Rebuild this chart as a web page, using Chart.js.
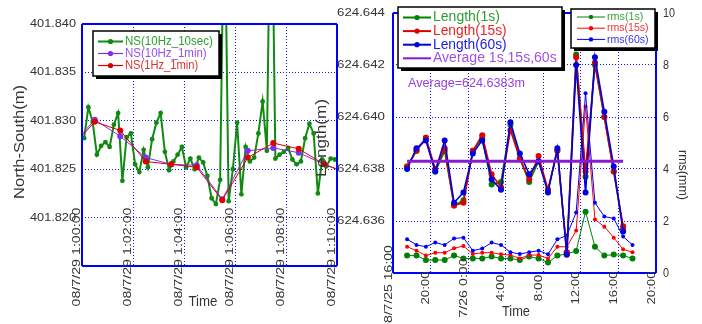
<!DOCTYPE html>
<html>
<head>
<meta charset="utf-8">
<script src="https://cdn.jsdelivr.net/npm/chart.js@4.4.1/dist/chart.umd.min.js"></script>
<style>
  html, body { margin: 0; padding: 0; background: #fff; width: 702px; height: 324px; overflow: hidden; }
  .layer { position: absolute; left: 0; top: 0; width: 702px; height: 324px; }
</style>
</head>
<body>
<div class="layer"><canvas id="nsChart" width="702" height="324"></canvas></div>
<div class="layer"><canvas id="lenChart" width="702" height="324"></canvas></div>
<script>
// ---------- North-South position, 08/7/29 1:00 - 1:10 (seconds after 1:00:00) ----------
const nsTickLabels = ['08/7/29 1:00:00', '08/7/29 1:02:00', '08/7/29 1:04:00',
                      '08/7/29 1:06:00', '08/7/29 1:08:00', '08/7/29 1:10:00'];

// 10 Hz data averaged over 10 s, stamped at 1:00:05, 1:00:15, ...
const ns10Hz10sec = [
  401.8282, 401.8314, 401.8299, 401.8265, 401.8274, 401.8278, 401.8273, 401.8296, 401.8308, 401.8238,
  401.8283, 401.8287, 401.8255, 401.8247, 401.8270, 401.8252, 401.8281, 401.8298, 401.8308, 401.8268,
  401.8249, 401.8258, 401.8265, 401.8273, 401.8252, 401.8261, 401.8250, 401.8262, 401.8257, 401.8243,
  401.8220, 401.8214, 401.8239, 401.8550, 401.8217, 401.8250, 401.8298, 401.8224, 401.8273, 401.8258,
  401.8262, 401.8287, 401.8320, 401.8269, 401.8600, 401.8261, 401.8265, 401.8268, 401.8272, 401.8260,
  401.8255, 401.8258, 401.8282, 401.8297, 401.8287, 401.8225, 401.8260, 401.8253, 401.8261, 401.8260
];
const ns10secTimes = ns10Hz10sec.map((_, i) => 5 + 10 * i);

// one-minute means, stamped at half past each minute
const ns1minTimes = [-30, 30, 90, 150, 210, 270, 330, 390, 450, 510, 570, 630];
const ns10Hz1min  = [401.8272, 401.8301, 401.8284, 401.8262, 401.8255, 401.8254,
                     401.8219, 401.8269, 401.8272, 401.8267, 401.8255, 401.8245];
const ns1Hz1min   = [401.8270, 401.8299, 401.8290, 401.8258, 401.8255, 401.8252,
                     401.8218, 401.8262, 401.8277, 401.8271, 401.8255, 401.8245];

// ---------- Baseline length and rms, 08/7/25 16:00 - 7/26 20:00 (hours after start) ----------
const lenTickLabels = ['08/7/25 16:00', '20:00', '7/26 0:00', '4:00', '8:00', '12:00', '16:00', '20:00'];

const lengthHours = Array.from({ length: 24 }, (_, i) => 1.5 + i);
const length1s  = [624.6381, 624.6387, 624.6392, 624.6379, 624.6387, 624.6366, 624.6368, 624.6387,
                   624.6392, 624.6374, 624.6375, 624.6397, 624.6384, 624.6375, 624.6383, 624.6372,
                   624.6387, 624.6348, 624.6424, 624.6377, 624.6420, 624.6400, 624.6379, 624.6357];
const length15s = [624.6381, 624.6387, 624.6392, 624.6380, 624.6388, 624.6366, 624.6367, 624.6387,
                   624.6393, 624.6378, 624.6373, 624.6395, 624.6384, 624.6376, 624.6385, 624.6372,
                   624.6387, 624.6348, 624.6423, 624.6379, 624.6421, 624.6400, 624.6379, 624.6358];
const length60s = [624.6380, 624.6388, 624.6391, 624.6379, 624.6391, 624.6367, 624.6371, 624.6386,
                   624.6391, 624.6376, 624.6372, 624.6398, 624.6386, 624.6378, 624.6383, 624.6371,
                   624.6388, 624.6347, 624.6420, 624.6371, 624.6423, 624.6402, 624.6381, 624.6356];
const lengthAverage = 624.6383;

const rmsHours = Array.from({ length: 25 }, (_, i) => 1.5 + i);
const rms1s  = [0.67, 0.67, 0.50, 0.50, 0.50, 0.67, 0.56, 0.56, 0.56, 0.63, 0.56, 0.56, 0.50,
                0.63, 0.56, 0.40, 0.67, 0.73, 0.85, 2.36, 1.01, 0.67, 0.71, 0.67, 0.56];
const rms15s = [1.01, 0.86, 0.67, 0.78, 0.78, 0.95, 1.04, 0.73, 0.78, 0.78, 0.72, 0.69, 0.56,
                0.69, 0.69, 0.56, 1.01, 1.01, 1.63, 6.40, 2.06, 1.78, 1.36, 0.91, 0.80];
const rms60s = [1.30, 1.08, 1.01, 1.17, 1.08, 1.33, 1.36, 0.86, 0.94, 1.17, 1.08, 0.80, 0.73,
                0.80, 0.86, 0.72, 1.30, 1.44, 2.33, 6.91, 2.70, 2.17, 2.10, 1.40, 1.08];

// ---------- shared drawing helpers ----------
const FONT = '"Liberation Sans", Arial, sans-serif';
const TEXT = '#333';
const GRID_BLUE = '#1010ff';
const FRAME_BLUE = '#0000ff';

const pts = (xs, ys) => xs.map((x, i) => ({ x, y: ys[i] }));

// Text squeezed horizontally to a given width, like a narrow half-width UI font
function txt(ctx, s, x, y, o) {
  ctx.save();
  ctx.font = o.size + 'px ' + (o.family || FONT);
  const natural = ctx.measureText(s).width;
  const sx = o.w ? o.w / natural : 1;
  ctx.translate(x, y);
  if (o.rot) ctx.rotate(o.rot);
  ctx.scale(sx, 1);
  ctx.textAlign = o.align || 'left';
  ctx.textBaseline = 'middle';
  ctx.fillStyle = o.color || TEXT;
  ctx.fillText(s, 0, 0);
  ctx.restore();
}

function legendBox(ctx, x, y, w, h) {
  ctx.save();
  ctx.fillStyle = '#000';
  ctx.fillRect(x + 3, y + 3, w, h);
  ctx.fillStyle = '#fff';
  ctx.fillRect(x, y, w, h);
  ctx.strokeStyle = '#000';
  ctx.lineWidth = 1.5;
  ctx.strokeRect(x, y, w, h);
  ctx.restore();
}

function legendRow(ctx, ds, x0, x1, y, textX, o) {
  ctx.save();
  ctx.strokeStyle = ds.borderColor;
  ctx.lineWidth = o.lineWidth || 2;
  ctx.beginPath();
  ctx.moveTo(x0, y);
  ctx.lineTo(x1, y);
  ctx.stroke();
  if (ds.pointRadius > 0) {
    ctx.fillStyle = ds.borderColor;
    ctx.beginPath();
    ctx.arc((x0 + x1) / 2, y, o.marker || 2.5, 0, Math.PI * 2);
    ctx.fill();
  }
  ctx.restore();
  txt(ctx, ds.label, textX, y, { size: o.size, w: o.perChar * ds.label.length, color: o.textColor });
}

function frame(ctx, a, sides) {
  ctx.save();
  ctx.strokeStyle = FRAME_BLUE;
  ctx.lineWidth = 2;
  ctx.beginPath();
  if (sides.top)    { ctx.moveTo(a.left, a.top);    ctx.lineTo(a.right, a.top); }
  if (sides.bottom) { ctx.moveTo(a.left, a.bottom); ctx.lineTo(a.right, a.bottom); }
  if (sides.left)   { ctx.moveTo(a.left, a.top);    ctx.lineTo(a.left, a.bottom); }
  if (sides.right)  { ctx.moveTo(a.right, a.top);   ctx.lineTo(a.right, a.bottom); }
  ctx.stroke();
  ctx.restore();
}

const gridOpts = {
  grid: { color: GRID_BLUE, lineWidth: 1, drawTicks: false },
  border: { display: false, dash: [1, 2] },
  ticks: { display: false }
};
const zeroWidth = s => { s.width = 0; };
const zeroHeight = s => { s.height = 0; };

// ---------- North-South chart ----------
const nsPlugin = {
  id: 'nsDecor',
  afterDatasetsDraw(chart) {
    frame(chart.ctx, chart.chartArea, { top: true, bottom: true, left: true, right: true });
  },
  afterDraw(chart) {
    const ctx = chart.ctx;
    const xs = chart.scales.x, ys = chart.scales.y;
    ys.ticks.forEach(t => {
      if (t.value < 401.8199) return;
      txt(ctx, t.value.toFixed(3), 76, ys.getPixelForValue(t.value), { size: 11, w: 46, align: 'right' });
    });
    xs.ticks.forEach((t, i) => {
      const s = nsTickLabels[i];
      txt(ctx, s, xs.getPixelForValue(t.value) - 5, 257,
          { size: 11, w: 6.6 * s.length, align: 'center', rot: -Math.PI / 2 });
    });
    txt(ctx, 'Time', 203, 302, { size: 14, w: 29, align: 'center' });
    txt(ctx, 'North-South(m)', 20, 142, { size: 14, w: 114, align: 'center', rot: -Math.PI / 2 });

    const ds = chart.data.datasets;
    legendBox(ctx, 93, 31, 126, 45);
    const textColors = ['#2e9e2e', '#9450f0', '#dd3333'];
    const widths = [6.27, 6.28, 6.1];
    [0, 1, 2].forEach(i => {
      legendRow(ctx, ds[i], 98, 123, 41.5 + 12 * i, 125,
                { size: 13.5, perChar: widths[i], textColor: textColors[i], lineWidth: i === 0 ? 2 : 1.2, marker: 2.6 });
    });
  }
};

new Chart(document.getElementById('nsChart'), {
  type: 'line',
  data: {
    datasets: [
      { label: 'NS(10Hz_10sec)', data: pts(ns10secTimes, ns10Hz10sec), borderColor: '#108a10',
        backgroundColor: '#108a10', borderWidth: 2, pointRadius: 2.4, pointBorderWidth: 0, order: 3 },
      { label: 'NS(10Hz_1min)', data: pts(ns1minTimes, ns10Hz1min), borderColor: '#7f2ff0',
        backgroundColor: '#7f2ff0', borderWidth: 1, pointRadius: 3, pointBorderWidth: 0, order: 2 },
      { label: 'NS(1Hz_1min)', data: pts(ns1minTimes, ns1Hz1min), borderColor: '#dd0000',
        backgroundColor: '#dd0000', borderWidth: 1, pointRadius: 3, pointBorderWidth: 0, order: 1 }
    ]
  },
  options: {
    responsive: false, animation: false, events: [],
    layout: { padding: { left: 82, top: 24, right: 365, bottom: 58 } },
    elements: { line: { tension: 0 } },
    datasets: { line: { clip: 0 } },
    plugins: { legend: { display: false }, tooltip: { enabled: false } },
    scales: {
      x: { type: 'linear', min: 0, max: 600, ticks: { display: false, stepSize: 120 },
           grid: gridOpts.grid, border: gridOpts.border, afterFit: zeroHeight },
      y: { type: 'linear', min: 401.815, max: 401.840, ticks: { display: false, stepSize: 0.005 },
           grid: gridOpts.grid, border: gridOpts.border, afterFit: zeroWidth }
    }
  },
  plugins: [nsPlugin]
});

// ---------- Length / rms chart ----------
const lenPlugin = {
  id: 'lenDecor',
  afterDatasetsDraw(chart) {
    frame(chart.ctx, chart.chartArea, { top: true, bottom: true, left: true, right: true });
  },
  afterDraw(chart) {
    const ctx = chart.ctx;
    const xs = chart.scales.x, ys = chart.scales.y, yr = chart.scales.y1;
    ys.ticks.forEach(t => {
      if (t.value < 624.6359) return;
      txt(ctx, t.value.toFixed(3), 385, ys.getPixelForValue(t.value), { size: 11.5, w: 48, align: 'right' });
    });
    yr.ticks.forEach(t => {
      const s = String(Math.round(t.value));
      txt(ctx, s, 663, yr.getPixelForValue(t.value), { size: 13, w: 6 * s.length, align: 'left' });
    });
    xs.ticks.forEach((t, i) => {
      const s = lenTickLabels[i];
      txt(ctx, s, xs.getPixelForValue(t.value) - 4.5, 288,
          { size: 11, w: 6.6 * s.length, align: 'center', rot: -Math.PI / 2 });
    });
    txt(ctx, 'Time', 516, 312, { size: 14, w: 28, align: 'center' });
    txt(ctx, 'Length(m)', 322, 138, { size: 14, w: 78, align: 'center', rot: -Math.PI / 2 });
    txt(ctx, 'rms(mm)', 683, 175, { size: 13, w: 50, align: 'center', rot: Math.PI / 2 });
    txt(ctx, 'Average=' + lengthAverage.toFixed(4) + 'm', 408, 83, { size: 13, w: 117, color: '#9a40e0' });

    const ds = chart.data.datasets;
    // length legend
    legendBox(ctx, 398, 7, 164, 61);
    const lenRows = [[1, '#2e9e2e'], [2, '#ee2222'], [3, '#2020ee'], [0, '#a050e8']];
    lenRows.forEach(([k, c], i) => {
      legendRow(ctx, ds[k], 403, 431, 17.5 + 13.6 * i, 433,
                { size: 14, perChar: k === 0 ? 6.87 : 6.7, textColor: c, lineWidth: 2, marker: 2.6 });
    });
    // rms legend
    legendBox(ctx, 571, 9, 84, 39);
    const rmsRows = [[4, '#3a9e3a'], [5, '#ee3333'], [6, '#3333ee']];
    rmsRows.forEach(([k, c], i) => {
      legendRow(ctx, ds[k], 577, 605, 17 + 11.2 * i, 607,
                { size: 11.5, perChar: 5.2, textColor: c, lineWidth: 1, marker: 2.2 });
    });
  }
};

const avgLine = [
  { x: lengthHours[0], y: lengthAverage },
  { x: lengthHours[lengthHours.length - 1], y: lengthAverage }
];

new Chart(document.getElementById('lenChart'), {
  type: 'line',
  data: {
    datasets: [
      { label: 'Average 1s,15s,60s', data: avgLine, yAxisID: 'y', borderColor: '#8a1ad0',
        borderWidth: 3, pointRadius: 0, order: 0 },
      { label: 'Length(1s)', data: pts(lengthHours, length1s), yAxisID: 'y', borderColor: '#008000',
        backgroundColor: '#008000', borderWidth: 1.6, pointRadius: 3, pointBorderWidth: 0, order: 3 },
      { label: 'Length(15s)', data: pts(lengthHours, length15s), yAxisID: 'y', borderColor: '#e00000',
        backgroundColor: '#e00000', borderWidth: 1.6, pointRadius: 3, pointBorderWidth: 0, order: 2 },
      { label: 'Length(60s)', data: pts(lengthHours, length60s), yAxisID: 'y', borderColor: '#0000e0',
        backgroundColor: '#0000e0', borderWidth: 1.6, pointRadius: 3, pointBorderWidth: 0, order: 1 },
      { label: 'rms(1s)', data: pts(rmsHours, rms1s), yAxisID: 'y1', borderColor: '#008000',
        backgroundColor: '#008000', borderWidth: 1, pointRadius: 3, pointBorderWidth: 0, order: 6 },
      { label: 'rms(15s)', data: pts(rmsHours, rms15s), yAxisID: 'y1', borderColor: '#ff0000',
        backgroundColor: '#ff0000', borderWidth: 1, pointRadius: 2, pointBorderWidth: 0, order: 5 },
      { label: 'rms(60s)', data: pts(rmsHours, rms60s), yAxisID: 'y1', borderColor: '#0000ff',
        backgroundColor: '#0000ff', borderWidth: 1, pointRadius: 2, pointBorderWidth: 0, order: 4 }
    ]
  },
  options: {
    responsive: false, animation: false, events: [],
    layout: { padding: { left: 393, top: 13, right: 46, bottom: 51 } },
    elements: { line: { tension: 0 } },
    datasets: { line: { clip: 0 } },
    plugins: { legend: { display: false }, tooltip: { enabled: false } },
    scales: {
      x: { type: 'linear', min: 0, max: 28, ticks: { display: false, stepSize: 4 },
           grid: gridOpts.grid, border: gridOpts.border, afterFit: zeroHeight },
      y: { type: 'linear', position: 'left', min: 624.634, max: 624.644, ticks: { display: false, stepSize: 0.002 },
           grid: gridOpts.grid, border: gridOpts.border, afterFit: zeroWidth },
      y1: { type: 'linear', position: 'right', min: 0, max: 10, ticks: { display: false, stepSize: 2 },
            grid: { drawOnChartArea: false, drawTicks: false }, border: { display: false }, afterFit: zeroWidth }
    }
  },
  plugins: [lenPlugin]
});
</script>
</body>
</html>
